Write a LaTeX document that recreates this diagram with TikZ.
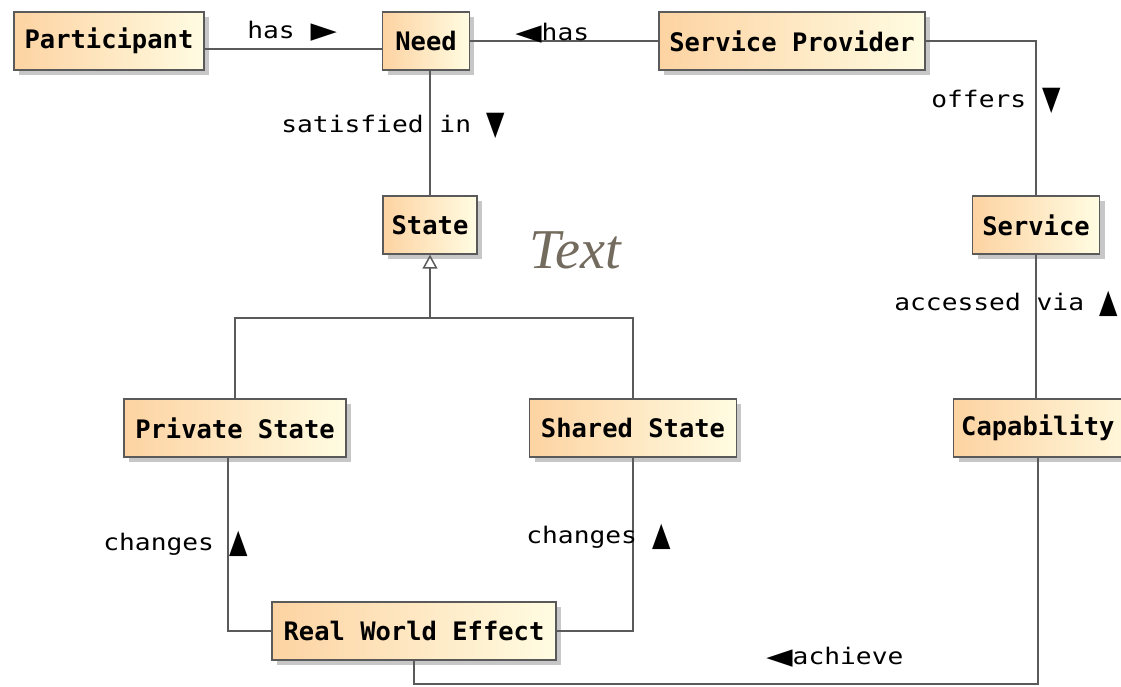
\documentclass[tikz,border=0pt]{standalone}
\usepackage{fontspec}
\usepackage{xcolor}
\usetikzlibrary{arrows.meta,positioning,shadows}
\newfontfamily\umlfont[FakeStretch=1.15]{DejaVu Sans Mono}
\newfontfamily\classfont{DejaVu Sans Mono}
\newfontfamily\trifont{DejaVu Sans}
\newfontfamily\notefont{Liberation Serif}
\definecolor{boxleft}{HTML}{FDD3A2}
\definecolor{boxright}{HTML}{FFFCE2}
\definecolor{edge}{HTML}{5A5A5A}
\definecolor{notegray}{HTML}{736B5E}
% direction marks: wide for left/right, tall for up/down
\newcommand{\htri}[1]{\scalebox{1.5}[1]{\trifont #1}}
\newcommand{\vtri}[1]{\raisebox{-0.2ex}{\scalebox{1.05}[1.45]{\trifont #1}}}

\begin{document}
\begin{tikzpicture}[
    x=0.02cm, y=-0.02cm,
    box/.style={draw=edge, line width=0.8pt, left color=boxleft, right color=boxright,
                minimum width=#1, minimum height=1.16cm, inner xsep=3pt,
                font=\classfont\bfseries\fontsize{14.5}{16}\selectfont,
                general shadow={fill=black!22, shadow xshift=0.1cm, shadow yshift=-0.1cm}},
    box/.default=2cm,
    conn/.style={draw=edge, line width=0.85pt},
    lbl/.style={font=\umlfont\fontsize{13}{15}\selectfont, inner sep=0pt, anchor=west},
  ]
  \fill[white] (0,0) rectangle (1121,686);
  \useasboundingbox (0,0) rectangle (1121,686);

  % classes
  \node[box=3.8cm]  (part)   at (109,41)  {Participant};
  \node[box=1.74cm] (need)   at (426,41)  {Need};
  \node[box=5.32cm] (prov)   at (792,41)  {Service Provider};
  \node[box=1.88cm] (state)  at (430,225) {State};
  \node[box=2.54cm] (svc)    at (1036,225) {Service};
  \node[box=4.44cm] (priv)   at (235,428) {Private State};
  \node[box=4.14cm] (shared) at (633,428) {Shared State};
  \node[box=3.9cm, anchor=west, align=left, text width=3.6cm] (cap) at (953,428) {Capability};
  \node[box=5.68cm] (rwe)    at (414,631) {Real World Effect};

  \node[font=\notefont\itshape\fontsize{32}{32}\selectfont, text=notegray] (note) at (575,250) {Text};

  \coordinate (fork) at (430,318);
  \coordinate (low)  at (0,684);

  % associations
  \draw[conn] ([yshift=-0.16cm]part.east) -- ([yshift=-0.16cm]need.west);
  \draw[conn] (need.east) -- (prov.west);
  \draw[conn] (prov.east) -| (svc.north);
  \draw[conn] (state.north |- need.south) -- (state.north);
  \draw[conn] (svc.south) -- (svc.south |- cap.north);
  \draw[conn] ([xshift=-0.14cm]priv.south) |- (rwe.west);
  \draw[conn] (shared.south) |- (rwe.east);
  \draw[conn] (rwe.south) -- (rwe.south |- low) -| ([xshift=0.04cm]svc.south |- cap.south);

  % generalisation
  \draw[conn] (priv.north) |- (fork) -| (shared.north);
  \draw[conn, -{Triangle[open, fill=white, length=0.28cm, width=0.3cm]}] (fork) -- (state.south);

  % labels
  \node[lbl] (lhas)  at (247,31)  {has \htri{▶}};
  \node[lbl] (lhas2) at (515,33)  {\htri{◀}has};
  \node[lbl] (lsat)  at (281,126) {satisfied in \vtri{▼}};
  \node[lbl] (loff)  at (931,101) {offers \vtri{▼}};
  \node[lbl] (lacc)  at (894,304) {accessed via \vtri{▲}};
  \node[lbl] (lchg)  at (103,544) {changes \vtri{▲}};
  \node[lbl] (lchg2) at (526,537) {changes \vtri{▲}};
  \node[lbl] (lach)  at (766,657) {\htri{◀}achieve};
\end{tikzpicture}
\end{document}
